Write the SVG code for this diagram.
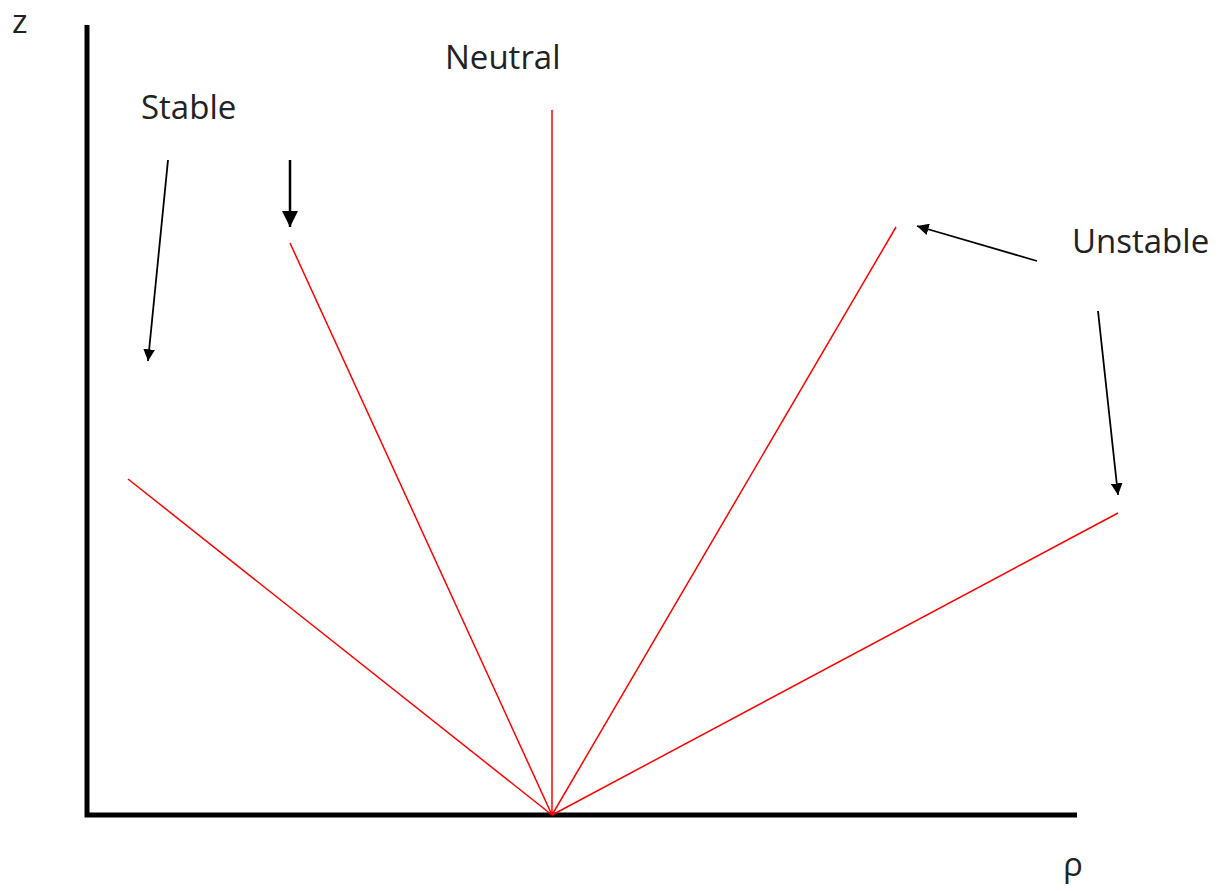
<svg xmlns="http://www.w3.org/2000/svg" width="1222" height="891" viewBox="0 0 1222 891">
<style>
.lbl{font-family:"Open Sans","DejaVu Sans",sans-serif;font-size:33px;fill:#222}
.ray{stroke:#ff0000;stroke-width:1.5;fill:none}
.arr{stroke:#000;stroke-width:1.8;fill:none;marker-end:url(#ah)}
.axis{stroke:#000;stroke-width:5;fill:none}
</style>
<defs>
<marker id="ah" viewBox="0 0 10 10" refX="10" refY="5" markerWidth="6.5" markerHeight="6.5" markerUnits="strokeWidth" orient="auto">
<path d="M0,0 L10,5 L0,10 z" fill="#000"/>
</marker>
</defs>
<rect width="1222" height="891" fill="#fff"/>
<g id="axes">
<path class="axis" d="M87,25 L87,815 L1077,815"/>
</g>
<g id="rays">
<line class="ray" x1="552" y1="815" x2="128" y2="479"/>
<line class="ray" x1="552" y1="815" x2="290" y2="243"/>
<line class="ray" x1="552" y1="815" x2="552" y2="110"/>
<line class="ray" x1="552" y1="815" x2="896" y2="227"/>
<line class="ray" x1="552" y1="815" x2="1118" y2="513"/>
</g>
<g id="connectors">
<line class="arr" x1="168" y1="160" x2="148" y2="361"/>
<line class="arr" x1="290" y1="160" x2="290" y2="227" style="stroke-width:2.5"/>
<line class="arr" x1="1037" y1="261" x2="917" y2="226"/>
<line class="arr" x1="1098" y1="311" x2="1118" y2="495"/>
</g>
<g id="label-z"><text class="lbl" x="12" y="33">z</text></g>
<g id="label-stable"><text class="lbl" x="141" y="119">Stable</text></g>
<g id="label-neutral"><text class="lbl" x="445" y="69">Neutral</text></g>
<g id="label-unstable"><text class="lbl" x="1072" y="253">Unstable</text></g>
<g id="label-rho"><text class="lbl" x="1063" y="876">ρ</text></g>
</svg>
